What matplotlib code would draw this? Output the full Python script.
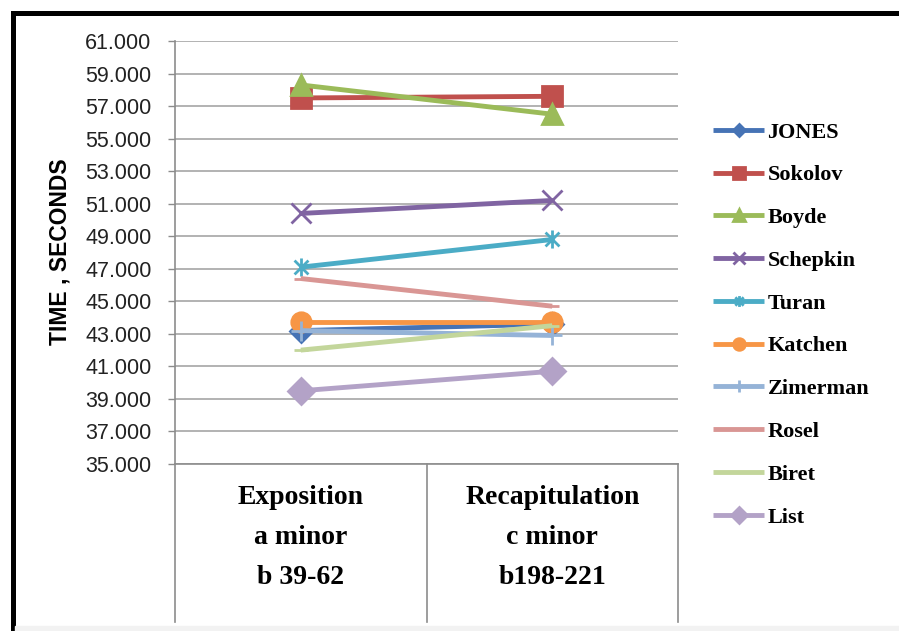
import matplotlib.pyplot as plt
from matplotlib.patches import Rectangle
from matplotlib.path import Path

categories = [["Exposition", "a minor", "b 39-62"],
              ["Recapitulation", "c minor", "b198-221"]]
names = ["JONES", "Sokolov", "Boyde", "Schepkin", "Turan",
         "Katchen", "Zimerman", "Rosel", "Biret", "List"]
values = [
    [43.2, 43.6],   # JONES
    [57.5, 57.6],   # Sokolov
    [58.3, 56.5],   # Boyde
    [50.4, 51.2],   # Schepkin
    [47.1, 48.8],   # Turan
    [43.7, 43.7],   # Katchen
    [43.2, 42.9],   # Zimerman
    [46.4, 44.7],   # Rosel
    [42.0, 43.5],   # Biret
    [39.5, 40.7],   # List
]
colors = ["#4673b5", "#c0504d", "#9bbb59", "#8064a2", "#4bacc6",
          "#f79646", "#95b3d7", "#d99694", "#c3d69b", "#b3a2c7"]

# excel style asterisk: x plus a vertical bar
star = Path([(-1, -1), (1, 1), (-1, 1), (1, -1), (0, -1.3), (0, 1.3)],
            [Path.MOVETO, Path.LINETO, Path.MOVETO, Path.LINETO,
             Path.MOVETO, Path.LINETO])
markers = ["D", "s", "^", "x", star, "o", "+", "_", "_", "D"]
msizes = [11, 14, 14, 14, 13, 14, 14, 10, 10, 13]

fig = plt.figure(figsize=(8.99, 6.31), dpi=100)
ax = fig.add_axes([175 / 899, 1 - 464 / 631, 503 / 899, 423 / 631])

x = [0, 1]
for name, vals, c, m, ms in zip(names, values, colors, markers, msizes):
    ax.plot(x, vals, color=c, lw=3.5, marker=m, markersize=ms,
            markeredgecolor=c, markerfacecolor=c, markeredgewidth=2,
            label=name, solid_capstyle='butt')

ax.set_xlim(-0.5, 1.5)
ax.set_ylim(35, 61)
ax.set_yticks(range(35, 62, 2))
ax.set_yticklabels([f"{v}.000" for v in range(35, 62, 2)],
                   fontsize=15.5, family="Liberation Sans", color="#222222")
ax.tick_params(axis='y', length=5, width=1, color="#8c8c8c", pad=12)
ax.set_xticks([])
ax.grid(axis='y', color="#a6a6a6", lw=1.2)
ax.set_axisbelow(True)
for s in ["top", "right", "bottom"]:
    ax.spines[s].set_visible(False)
ax.spines["left"].set_color("#8c8c8c")
ax.spines["left"].set_linewidth(1.2)

# category table below plot
drop = (622 - 464) / 423
for xb in [-0.5, 0.5, 1.5]:
    ax.plot([xb, xb], [0, -drop], color="#8c8c8c", lw=1.2, clip_on=False,
            transform=ax.get_xaxis_transform())
ax.plot([-0.5, 1.5], [0, 0], color="#8c8c8c", lw=1.2, clip_on=False,
        transform=ax.get_xaxis_transform())
line_y = [497, 537, 577]
for i, lines in enumerate(categories):
    for txt, py in zip(lines, line_y):
        ax.text(i, -(py - 464) / 423, txt, ha='center', va='center',
                fontsize=20, fontweight='bold', family="Liberation Serif",
                transform=ax.get_xaxis_transform())

fig.text(60 / 899, 1 - 252 / 631, "TIME , SECONDS", rotation=90,
         ha='center', va='center', fontsize=16.5, fontweight='bold',
         family="Liberation Sans")

fig.legend(loc='upper left', bbox_to_anchor=(713 / 899, 1 - 122 / 631),
           frameon=False, prop={'family': 'Liberation Serif',
                                'weight': 'bold', 'size': 16},
           handlelength=2.3, handletextpad=0.15, labelspacing=1.0,
           markerscale=0.6, borderpad=0, borderaxespad=0)

# black frame and bottom strip
fig.patches.append(Rectangle((12.5 / 899, -0.2), 1.5, 1.2 - 12.5 / 631,
                             transform=fig.transFigure, fill=False,
                             edgecolor='black', lw=3.6))
fig.patches.append(Rectangle((15 / 899, 0), 1, 5 / 631,
                             transform=fig.transFigure, color="#f2f2f2"))

fig.savefig("out.png", dpi=100)
